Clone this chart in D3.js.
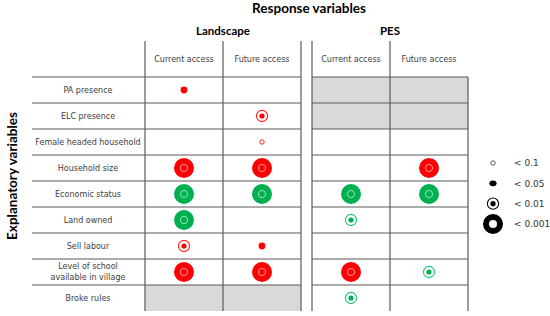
<!DOCTYPE html>
<html>
<head>
<meta charset="utf-8">
<script src="https://cdn.jsdelivr.net/npm/d3@7"></script>
<style>
  body { margin: 0; background: #fff; }
  text { font-family: "DejaVu Sans", sans-serif; }
  .title { font-family: Lato, sans-serif; font-weight: bold; fill: #000; }
  .lab { font-size: 8px; fill: #404040; }
</style>
</head>
<body>
<div id="chart"></div>
<script>
// explanatory variables (rows)
const rows = ["PA presence", "ELC presence", "Female headed household", "Household size",
  "Economic status", "Land owned", "Sell labour", "Level of school\navailable in village", "Broke rules"];
const groups = ["Landscape", "PES"];
const columns = ["Current access", "Future access"];
const levels = ["< 0.1", "< 0.05", "< 0.01", "< 0.001"];

// results per response column: [row, level, sign]
const landscapeCurrent = [
  ["PA presence", "< 0.05", "neg"], ["Household size", "< 0.001", "neg"],
  ["Economic status", "< 0.001", "pos"], ["Land owned", "< 0.001", "pos"],
  ["Sell labour", "< 0.01", "neg"], ["Level of school\navailable in village", "< 0.001", "neg"]
];
const landscapeFuture = [
  ["ELC presence", "< 0.01", "neg"], ["Female headed household", "< 0.1", "neg"],
  ["Household size", "< 0.001", "neg"], ["Economic status", "< 0.001", "pos"],
  ["Sell labour", "< 0.05", "neg"], ["Level of school\navailable in village", "< 0.001", "neg"]
];
const pesCurrent = [
  ["Economic status", "< 0.001", "pos"], ["Land owned", "< 0.01", "pos"],
  ["Level of school\navailable in village", "< 0.001", "neg"], ["Broke rules", "< 0.01", "pos"]
];
const pesFuture = [
  ["Household size", "< 0.001", "neg"], ["Economic status", "< 0.001", "pos"],
  ["Level of school\navailable in village", "< 0.01", "pos"]
];
// cells not tested
const greyCells = [
  ["PES", "PA presence"], ["PES", "ELC presence"], ["Landscape", "Broke rules"]
];

const results = [
  ...landscapeCurrent.map(d => ["Landscape", "Current access", ...d]),
  ...landscapeFuture.map(d => ["Landscape", "Future access", ...d]),
  ...pesCurrent.map(d => ["PES", "Current access", ...d]),
  ...pesFuture.map(d => ["PES", "Future access", ...d])
];

const W = 550, H = 316;
const svg = d3.select("#chart").append("svg").attr("width", W).attr("height", H);

const y = d3.scaleBand().domain(rows).range([77, 311]);
const xGroup = { Landscape: d3.scaleBand().domain(columns).range([145, 301]),
                 PES: d3.scaleBand().domain(columns).range([312, 468]) };
const labelX = 88;

const colour = { neg: "#ff0000", pos: "#00b050" };
const inner = { neg: "#ff9a9a", pos: "#8ee8bd" };
const ring = { neg: "#ff2020", pos: "#20c080" };

// grey cells
svg.append("g").selectAll("rect").data(greyCells).join("rect")
  .attr("x", d => xGroup[d[0]].range()[0])
  .attr("y", d => y(d[1]))
  .attr("width", d => xGroup[d[0]].range()[1] - xGroup[d[0]].range()[0])
  .attr("height", y.bandwidth())
  .attr("fill", "#d9d9d9");

// grid lines
const grid = svg.append("g").attr("stroke", "#5a5a5a").attr("stroke-width", 1.2);
const hLines = rows.map(r => y(r));
grid.selectAll("line.hl").data(hLines).join("line").attr("class", "hl")
  .attr("x1", 32).attr("x2", xGroup.Landscape.range()[1]).attr("y1", d => d).attr("y2", d => d);
grid.selectAll("line.hp").data(hLines).join("line").attr("class", "hp")
  .attr("x1", xGroup.PES.range()[0]).attr("x2", xGroup.PES.range()[1]).attr("y1", d => d).attr("y2", d => d);
const vLines = [
  [xGroup.Landscape("Current access"), 41], [xGroup.Landscape("Future access"), 41],
  [xGroup.Landscape.range()[1], 41], [xGroup.PES("Current access"), 41],
  [xGroup.PES("Future access"), 41], [xGroup.PES.range()[1], 77]
];
grid.selectAll("line.v").data(vLines).join("line").attr("class", "v")
  .attr("x1", d => d[0]).attr("x2", d => d[0]).attr("y1", d => d[1]).attr("y2", 311);

// titles
svg.append("text").attr("class", "title").attr("x", 309).attr("y", 13)
  .attr("text-anchor", "middle").attr("font-size", 13.5).text("Response variables");
groups.forEach(g => {
  const r = xGroup[g].range();
  svg.append("text").attr("class", "title").attr("x", (r[0] + r[1]) / 2).attr("y", 35)
    .attr("text-anchor", "middle").attr("font-size", 11.5).text(g);
  columns.forEach(c => {
    svg.append("text").attr("class", "lab").attr("x", xGroup[g](c) + xGroup[g].bandwidth() / 2)
      .attr("y", 62).attr("text-anchor", "middle").attr("font-size", 7.5).text(c);
  });
});
svg.append("text").attr("class", "title")
  .attr("transform", "translate(17,176) rotate(-90)")
  .attr("text-anchor", "middle").attr("font-size", 13.5).text("Explanatory variables");

// row labels
svg.append("g").selectAll("text").data(rows).join("text").attr("class", "lab")
  .attr("text-anchor", "middle")
  .each(function (d) {
    const lines = d.split("\n");
    const t = d3.select(this);
    const cy = y(d) + y.bandwidth() / 2;
    lines.forEach((l, i) => {
      t.append("tspan").attr("x", labelX)
        .attr("y", cy + 2.5 + (i - (lines.length - 1) / 2) * 10.5).text(l);
    });
  });

// markers
function drawMarker(g, level, fill, innerCol, ringCol, legend) {
  if (level === "< 0.001") {
    if (legend) {
      g.append("circle").attr("r", 7).attr("fill", "none").attr("stroke", "#000").attr("stroke-width", 6);
    } else {
      g.append("circle").attr("r", 10).attr("fill", fill);
      g.append("circle").attr("r", 3.6).attr("fill", "none").attr("stroke", innerCol).attr("stroke-width", 1);
    }
  } else if (level === "< 0.01") {
    g.append("circle").attr("r", 5.6).attr("fill", "#fff").attr("stroke", ringCol).attr("stroke-width", 1.1);
    g.append("circle").attr("r", 2.6).attr("fill", fill);
  } else if (level === "< 0.05") {
    if (legend) g.append("ellipse").attr("rx", 3.6).attr("ry", 2.9).attr("fill", fill);
    else g.append("circle").attr("r", 3.4).attr("fill", fill);
  } else {
    g.append("circle").attr("r", 2.2).attr("fill", "#fff").attr("stroke", ringCol).attr("stroke-width", 1);
  }
}

svg.append("g").selectAll("g").data(results).join("g")
  .attr("transform", d => `translate(${xGroup[d[0]](d[1]) + xGroup[d[0]].bandwidth() / 2},${y(d[2]) + y.bandwidth() / 2})`)
  .each(function (d) {
    drawMarker(d3.select(this), d[3], colour[d[4]], inner[d[4]], ring[d[4]], false);
  });

// legend
const ly = d3.scalePoint().domain(levels).range([163, 224]);
const leg = svg.append("g").selectAll("g").data(levels).join("g")
  .attr("transform", d => `translate(493,${ly(d)})`);
leg.each(function (d) {
  drawMarker(d3.select(this), d, "#000", "#fff", d === "< 0.1" ? "#555" : "#000", true);
});
leg.append("text").attr("x", 21).attr("y", 3.2).attr("font-size", 9)
  .attr("font-family", "Lato, sans-serif").attr("fill", "#333").text(d => d);
</script>
</body>
</html>
